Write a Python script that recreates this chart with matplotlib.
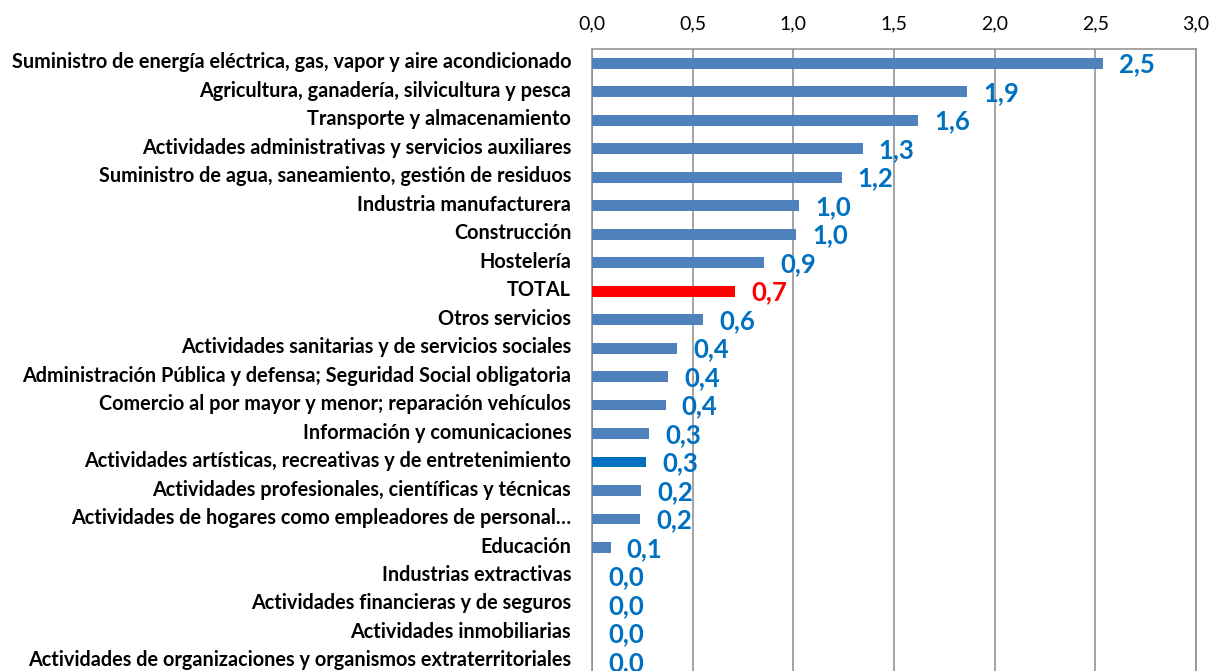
import matplotlib
matplotlib.use("Agg")
import matplotlib.pyplot as plt
from matplotlib import transforms

# sectors, top to bottom, and their values
sectores = [
    "Suministro de energía eléctrica, gas, vapor y aire acondicionado",
    "Agricultura, ganadería, silvicultura y pesca",
    "Transporte y almacenamiento",
    "Actividades administrativas y servicios auxiliares",
    "Suministro de agua, saneamiento, gestión de residuos",
    "Industria manufacturera",
    "Construcción",
    "Hostelería",
    "TOTAL",
    "Otros servicios",
    "Actividades sanitarias y de servicios sociales",
    "Administración Pública y defensa; Seguridad Social obligatoria",
    "Comercio al por mayor y menor; reparación vehículos",
    "Información y comunicaciones",
    "Actividades artísticas, recreativas y de entretenimiento",
    "Actividades profesionales, científicas y técnicas",
    "Actividades de hogares como empleadores de personal…",
    "Educación",
    "Industrias extractivas",
    "Actividades financieras y de seguros",
    "Actividades inmobiliarias",
    "Actividades de organizaciones y organismos extraterritoriales",
]
valores = [2.54, 1.865, 1.62, 1.345, 1.24, 1.03, 1.015, 0.855, 0.71, 0.553,
           0.424, 0.379, 0.366, 0.285, 0.268, 0.245, 0.240, 0.092,
           0.0, 0.0, 0.0, 0.0]
ticks_x = [0.0, 0.5, 1.0, 1.5, 2.0, 2.5, 3.0]

AZUL = "#4F81BD"
AZUL_OSC = "#0070C0"
ROJO = "#FF0000"
GRIS = "#8C8C8C"

plt.rcParams["font.family"] = ["Lato", "DejaVu Sans"]

fig = plt.figure(figsize=(12.12, 6.71), dpi=100)
ax = fig.add_axes([592 / 1212, -0.007, (1196 - 592) / 1212, 1 - 49 / 671 + 0.007])

colores = []
for s in sectores:
    if s == "TOTAL":
        colores.append(ROJO)
    elif s.startswith("Actividades artísticas"):
        colores.append(AZUL_OSC)
    else:
        colores.append(AZUL)

ypos = list(range(len(sectores)))
ax.barh(ypos, valores, height=0.38, color=colores, zorder=3)

for y, v, c in zip(ypos, valores, colores):
    col = ROJO if c == ROJO else AZUL_OSC
    ax.annotate("{:.1f}".format(v).replace(".", ","), xy=(v, y),
                xytext=(11.5, -1), textcoords="offset points",
                va="center", ha="left", fontsize=18.5, fontweight="bold",
                color=col, zorder=4, annotation_clip=False)

ax.set_ylim(len(sectores) - 0.5, -0.5)
ax.set_xlim(0, 3.0)
ax.set_xticks(ticks_x)
ax.set_xticklabels(["{:.1f}".format(t).replace(".", ",") for t in ticks_x])
ax.xaxis.tick_top()
ax.tick_params(axis="x", length=0, pad=12, labelsize=14, colors="black")
ax.set_yticks(ypos)
ax.set_yticklabels(sectores, fontsize=14.3, fontweight="bold")
ax.tick_params(axis="y", length=0, pad=15)

# nudge the category labels up a little so the last one is not clipped
nudge = transforms.ScaledTranslation(0, 3 / 100, fig.dpi_scale_trans)
for lbl in ax.get_yticklabels():
    lbl.set_transform(lbl.get_transform() + nudge)

ax.grid(axis="x", color=GRIS, linewidth=1.1, zorder=0)
ax.grid(axis="y", visible=False)
for side in ["left", "top", "right"]:
    ax.spines[side].set_color(GRIS)
    ax.spines[side].set_linewidth(1.1)
ax.spines["bottom"].set_visible(False)

fig.savefig("out.png", dpi=100)
